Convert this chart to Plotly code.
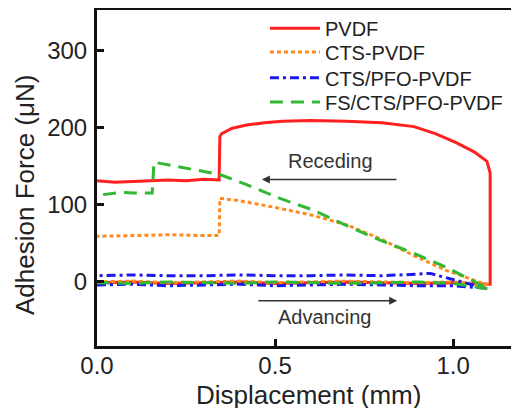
import plotly.graph_objects as go

# ---------------- data ----------------
series_names = ["PVDF", "CTS-PVDF", "CTS/PFO-PVDF", "FS/CTS/PFO-PVDF"]

# PVDF: advancing branch (left->right) then receding branch (right->left)
pvdf_x = [0.0, 0.1, 0.2, 0.3, 0.4, 0.5, 0.6, 0.7, 0.8, 0.9, 1.0, 1.104,
          1.104, 1.095, 1.06, 1.01, 0.95, 0.89, 0.8, 0.7, 0.6, 0.52, 0.47, 0.42, 0.38, 0.35, 0.345,
          0.343, 0.3, 0.25, 0.2, 0.15, 0.1, 0.05, 0.0]
pvdf_y = [-1, 0, -2, -1, 0, -2, -1, 0, -1, -2, -1, -3,
          141, 156, 168, 180, 192, 201, 206, 208, 209, 208, 206, 203, 199, 192, 188,
          132, 133, 131, 132, 131, 130, 129, 131]

cts_x = [0.0, 0.1, 0.2, 0.3, 0.4, 0.5, 0.6, 0.7, 0.8, 0.9, 1.0, 1.1,
         1.06, 0.98, 0.89, 0.795, 0.7, 0.607, 0.505, 0.45, 0.40, 0.35, 0.345,
         0.343, 0.3, 0.2, 0.1, 0.0]
cts_y = [0, 1, -1, 0, 1, -1, 0, 1, 0, -1, 0, -4,
         2, 15, 34, 56, 74, 86, 96, 101, 105, 108, 108,
         60, 60, 61, 60, 59]

pfo_x = [0.0, 0.1, 0.2, 0.3, 0.4, 0.5, 0.6, 0.7, 0.8, 0.9, 1.0, 1.09,
         1.04, 0.98, 0.935, 0.9, 0.8, 0.7, 0.6, 0.5, 0.4, 0.3, 0.2, 0.1, 0.0]
pfo_y = [-4, -3, -5, -4, -3, -5, -4, -3, -4, -5, -5, -8,
         -2, 6, 11, 10, 8, 9, 8, 8, 9, 8, 8, 9, 8]

fs_x = [0.0, 0.1, 0.2, 0.3, 0.4, 0.5, 0.6, 0.7, 0.8, 0.9, 1.0, 1.1,
        1.04, 0.98, 0.89, 0.795, 0.7, 0.607, 0.514, 0.42, 0.345, 0.26, 0.2, 0.16,
        0.155, 0.1, 0.07, 0.03, 0.0]
fs_y = [-1, -2, 0, -1, -2, 0, -1, -2, -1, 0, -2, -9,
        5, 19, 37, 54, 73, 93, 108, 126, 139, 146, 151, 155,
        115, 115, 116, 114, 112]

x_ticks = [0.0, 0.5, 1.0]
x_tick_labels = ["0.0", "0.5", "1.0"]
y_ticks = [0, 100, 200, 300]
y_tick_labels = ["0", "100", "200", "300"]

# ---------------- figure ----------------
FONT = "Liberation Sans, Arial, sans-serif"
TXT = "#222222"

fig = go.Figure()
fig.add_trace(go.Scatter(x=pvdf_x, y=pvdf_y, mode="lines", name=series_names[0],
                         legend="legend",
                         line=dict(color="#ff2020", width=3)))
fig.add_trace(go.Scatter(x=cts_x, y=cts_y, mode="lines", name=series_names[1],
                         legend="legend2",
                         line=dict(color="#ff8a1c", width=3, dash="4px,3px")))
fig.add_trace(go.Scatter(x=pfo_x, y=pfo_y, mode="lines", name=series_names[2],
                         legend="legend3",
                         line=dict(color="#1a1af0", width=3, dash="9px,4px,3px,4px")))
fig.add_trace(go.Scatter(x=fs_x, y=fs_y, mode="lines", name=series_names[3],
                         legend="legend4",
                         line=dict(color="#33b833", width=3, dash="13px,8px")))

axis_common = dict(showgrid=False, zeroline=False, showline=True, linecolor="#111111",
                   linewidth=3, ticks="inside", ticklen=7, tickwidth=3, tickcolor="#111111",
                   automargin=False,
                   tickfont=dict(family=FONT, size=24, color=TXT))

fig.update_xaxes(range=[0, 1.185], tickvals=x_ticks, ticktext=x_tick_labels,
                 mirror=True, ticklabelstandoff=-4, **axis_common)
fig.update_yaxes(range=[-83, 352], tickvals=y_ticks, ticktext=y_tick_labels,
                 ticklabelstandoff=2, **axis_common)

fig.add_annotation(xref="paper", yref="paper", x=0.5, y=-0.146, yanchor="middle",
                   text="Displacement (mm)", showarrow=False,
                   font=dict(family=FONT, size=26, color=TXT))
fig.add_annotation(xref="paper", yref="paper", x=-0.171, y=0.449, xanchor="center",
                   yanchor="middle",
                   text="Adhesion Force (\u03bcN)", textangle=-90, showarrow=False,
                   font=dict(family=FONT, size=26, color=TXT))

# direction arrows and labels
fig.add_annotation(x=0.463, y=132.5, ax=0.845, ay=132.5, xref="x", yref="y",
                   axref="x", ayref="y", text="", showarrow=True, arrowhead=2,
                   arrowsize=1, arrowwidth=1.6, arrowcolor="#333333")
fig.add_annotation(x=0.843, y=-24.5, ax=0.449, ay=-24.5, xref="x", yref="y",
                   axref="x", ayref="y", text="", showarrow=True, arrowhead=2,
                   arrowsize=1, arrowwidth=1.6, arrowcolor="#333333")
fig.add_annotation(x=0.657, y=157, text="Receding", showarrow=False,
                   font=dict(family=FONT, size=20, color="#333333"))
fig.add_annotation(x=0.64, y=-45, text="Advancing", showarrow=False,
                   font=dict(family=FONT, size=20, color="#333333"))

legend_rows_y = [0.946, 0.875, 0.798, 0.726]
legend_style = dict(x=0.398, xanchor="left", yanchor="middle",
                    bgcolor="rgba(0,0,0,0)", borderwidth=0, itemwidth=50,
                    font=dict(family=FONT, size=20, color=TXT))

# the page body has an 8px default margin: shrink the figure so the plot
# area lands at the same place as in the reference
fig.update_layout(
    template="none",
    width=511, height=400,
    margin=dict(l=89, r=0, t=2, b=62, pad=0),
    paper_bgcolor="white", plot_bgcolor="white",
    showlegend=True,
    legend=dict(y=legend_rows_y[0], **legend_style),
    legend2=dict(y=legend_rows_y[1], **legend_style),
    legend3=dict(y=legend_rows_y[2], **legend_style),
    legend4=dict(y=legend_rows_y[3], **legend_style),
)

fig.write_html("out.html")
